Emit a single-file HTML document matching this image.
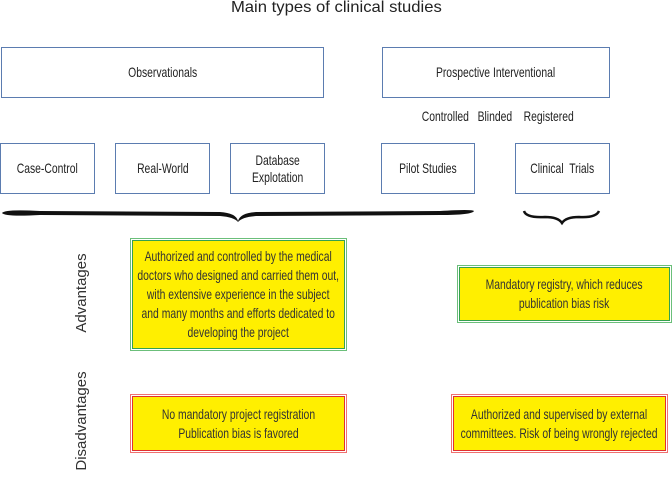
<!DOCTYPE html>
<html><head><style>
body{margin:0;width:672px;height:470px;background:#fff;position:relative;overflow:hidden;font-family:"Liberation Sans",sans-serif;color:#222}
.b,.y{position:absolute;box-sizing:border-box;display:flex;align-items:center;justify-content:center;text-align:center;font-size:14px;white-space:nowrap}
.b{border:1px solid #5b7cb0;line-height:17px;background:#fff}
.y{background:#ffef00;line-height:19px;color:#333}
.b span,.y span,.t span{display:inline-block;transform:scaleX(0.74)}
.g{border:1px solid #6bbf7a;box-shadow:inset 0 0 0 1px #fff,inset 0 0 0 2px #35a050}
.r{border:1px solid #f07070;box-shadow:inset 0 0 0 1px #fff,inset 0 0 0 2px #e03030}
.t{position:absolute;font-size:14px;white-space:nowrap}
.v{position:absolute;transform:rotate(-90deg);transform-origin:center;font-size:15px;white-space:nowrap;text-align:center;width:140px;height:20px;line-height:20px;color:#333}
</style></head><body>
<div class="t" style="left:0;width:672px;text-align:center;top:-1px;font-size:16px"><span style="transform:scaleX(1.04)">Main types of clinical studies</span></div>
<div class="b" style="left:1px;top:47px;width:323px;height:51px"><span>Observationals</span></div>
<div class="b" style="left:382px;top:47px;width:228px;height:51px"><span>Prospective Interventional</span></div>
<div class="t" style="left:395px;width:200px;text-align:center;top:108px"><span>Controlled&nbsp;&nbsp; Blinded&nbsp;&nbsp;&nbsp; Registered</span></div>
<div class="b" style="left:0;top:143px;width:95px;height:51px"><span>Case-Control</span></div>
<div class="b" style="left:115px;top:143px;width:95px;height:51px"><span>Real-World</span></div>
<div class="b" style="left:230px;top:143px;width:95px;height:51px"><span>Database<br>Explotation</span></div>
<div class="b" style="left:381px;top:143px;width:94px;height:51px"><span>Pilot Studies</span></div>
<div class="b" style="left:515px;top:143px;width:95px;height:51px"><span>Clinical&nbsp; Trials</span></div>
<svg style="position:absolute;left:0;top:200px" width="672" height="30">
<path d="M2 13 Q5 9 40 11 L220 12 Q236 13 238 21 Q240 13 256 12 L440 11 Q472 9 474 11 Q472 15 440 15 L256 16 Q242 17 238 22 Q234 17 220 16 L40 15 Q5 17 2 13Z" fill="#111"/>
<path d="M524 11 Q526 18 545 17 Q558 17 562 23 Q566 17 579 17 Q596 18 599 11" fill="none" stroke="#111" stroke-width="2.5"/>
</svg>
<div class="v" style="left:12px;top:283px">Advantages</div>
<div class="v" style="left:12px;top:411px">Disadvantages</div>
<div class="y g" style="left:130px;top:238px;width:217px;height:113px"><span>Authorized and controlled by the medical<br>doctors who designed and carried them out,<br>with extensive experience in the subject<br>and many months and efforts dedicated to<br>developing the project</span></div>
<div class="y g" style="left:457px;top:265px;width:215px;height:58px"><span>Mandatory registry, which reduces<br>publication bias risk</span></div>
<div class="y r" style="left:130px;top:394px;width:217px;height:59px"><span>No mandatory project registration<br>Publication bias is favored</span></div>
<div class="y r" style="left:451px;top:394px;width:217px;height:59px"><span>Authorized and supervised by external<br>committees. Risk of being wrongly rejected</span></div>
</body></html>
